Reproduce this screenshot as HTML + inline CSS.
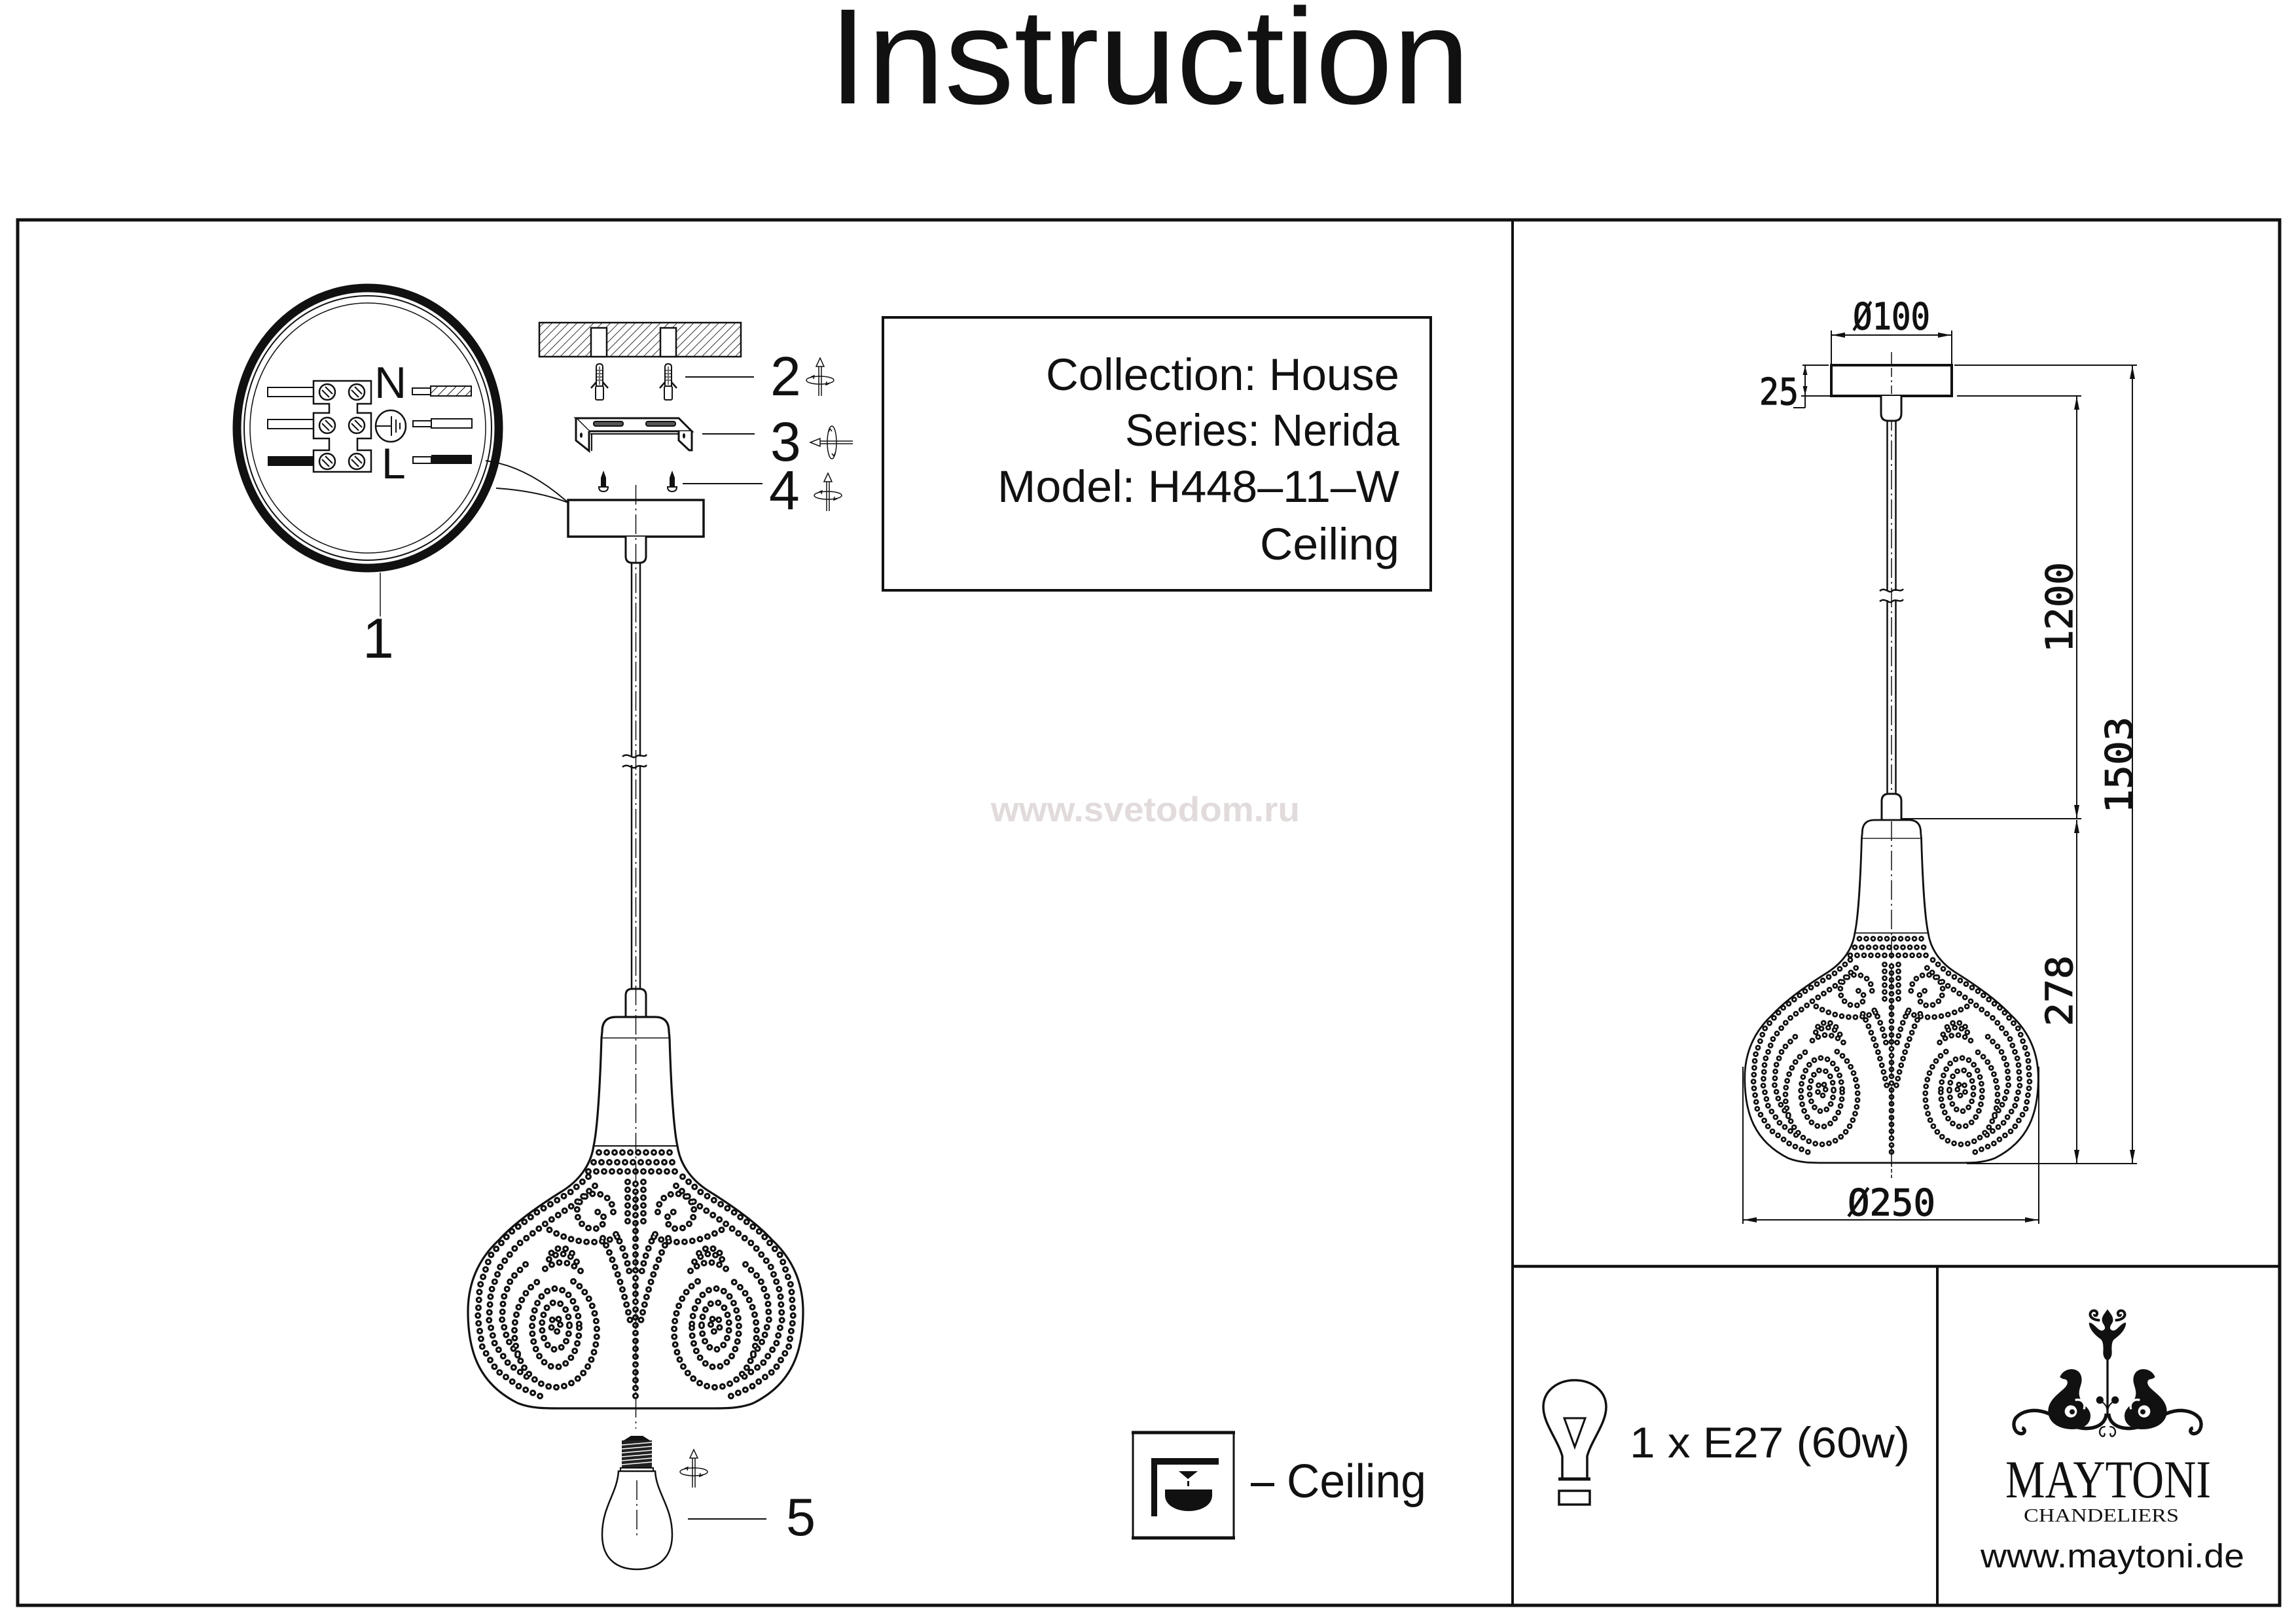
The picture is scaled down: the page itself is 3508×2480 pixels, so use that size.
<!DOCTYPE html>
<html><head><meta charset="utf-8">
<style>
html,body{margin:0;padding:0;background:#fff;overflow:hidden;}
svg{display:block;}
text{font-family:"Liberation Sans",Arial,sans-serif;fill:#111;}
.m{font-family:"DejaVu Sans Mono","Liberation Mono",monospace;stroke:#111;stroke-width:1.2;}
.s{font-family:"Liberation Serif",serif;}
</style></head><body>
<svg width="3508" height="2480" viewBox="0 0 3508 2480" xmlns="http://www.w3.org/2000/svg">
<defs>
  <pattern id="hatch" width="9" height="9" patternUnits="userSpaceOnUse" patternTransform="rotate(45)">
    <line x1="0" y1="0" x2="0" y2="9" stroke="#111" stroke-width="1.7"/>
  </pattern>
  <pattern id="hatch2" width="10" height="10" patternUnits="userSpaceOnUse" patternTransform="rotate(45)">
    <line x1="0" y1="0" x2="0" y2="10" stroke="#111" stroke-width="2"/>
  </pattern>
  <marker id="a" viewBox="0 0 20 8" markerWidth="20" markerHeight="8" refX="20" refY="4" orient="auto-start-reverse" markerUnits="userSpaceOnUse">
    <path d="M0,0 L20,4 L0,8 Z" fill="#111"/>
  </marker>
  <marker id="a2" viewBox="0 0 14 7" markerWidth="14" markerHeight="7" refX="14" refY="3.5" orient="auto-start-reverse" markerUnits="userSpaceOnUse">
    <path d="M0,0 L14,3.5 L0,7 Z" fill="#111"/>
  </marker>

  <g id="dR">
    <path d="M50,338 Q22,395 7,470"/>
    <path d="M30,332 Q14,360 8,398"/>
    <path d="M34,298 C34,268 72,260 86,284 C98,308 76,330 56,322 C44,316 46,296 62,298"/>
    <path d="M28,336 C60,350 100,346 140,320"/>
    <path d="M72,244 L100,268 L150,298 L192,330 L222,365 L238,412 L241,460 L234,505 L212,540 L176,566 L135,584"/>
    <path d="M62,258 L92,285 L138,316 L180,348 L206,380 L221,420 L224,462 L215,500 L194,530 L160,554"/>
    <path d="M168,378 L190,400 L202,430 L204,462 L196,492 L178,520"/>
    <path d="M95,404 A63 85 0 1 0 149,404"/>
    <path d="M86,475 A36 60 0 1 0 158,475 A36 60 0 1 0 86,475"/>
    <path d="M101,472 A21 36 0 1 0 143,472 A21 36 0 1 0 101,472"/>
    <path d="M115,470 A7 11 0 1 0 129,470 A7 11 0 1 0 115,470"/>
    <path d="M84,388 Q113,362 142,388"/>
    <path d="M90,374 Q113,350 136,374"/>
    <path d="M97,361 Q113,345 129,361"/>
  </g>
  <g id="dots">
    <path d="M-56,207 H56"/>
    <path d="M-64,222 H64"/>
    <path d="M-72,236 H72"/>
    <path d="M0,255 V585"/>
    <path d="M-12,252 V318"/>
    <path d="M12,252 V318"/>
    <use href="#dR"/>
    <use href="#dR" transform="scale(-1,1)"/>
  </g>
  <g id="lamp">
    <path d="M-51,22 Q-51,0 -30,0 L30,0 Q51,0 51,22 L52,32 C54,100 58,170 64,197 C68,225 85,250 115,268 C150,290 185,315 208,340 C235,365 256,400 256,450 C256,510 240,560 180,590 C160,598 140,598 115,598 L-115,598 C-140,598 -160,598 -180,590 C-240,560 -256,510 -256,450 C-256,400 -235,365 -208,340 C-185,315 -150,290 -115,268 C-85,250 -68,225 -64,197 C-58,170 -54,100 -52,32 Z" fill="#fff" stroke="#111" stroke-width="3.2"/>
    <line x1="-52" y1="32" x2="52" y2="32" stroke="#111" stroke-width="1.5"/>
    <line x1="-64" y1="197" x2="64" y2="197" stroke="#111" stroke-width="2"/>
    <use href="#dots" fill="none" stroke="#111" stroke-width="10" stroke-dasharray="0 12" stroke-linecap="round"/>
    <use href="#dots" fill="none" stroke="#fff" stroke-width="3.4" stroke-dasharray="0 12" stroke-linecap="round"/>
  </g>

  <g id="rotV" fill="none" stroke="#111" stroke-width="1.5">
    <line x1="-2" y1="0" x2="-2" y2="-46"/>
    <line x1="2" y1="0" x2="2" y2="-46"/>
    <path d="M-6,-45 L0,-58 L6,-45 Z" fill="#fff"/>
    <ellipse cx="0" cy="-24" rx="21" ry="6"/>
    <path d="M-14,-29 l5,-2 l-1,5"/>
    <path d="M14,-19 l-5,2 l1,-5"/>
  </g>
  <g id="rotH" fill="none" stroke="#111" stroke-width="1.5">
    <line x1="0" y1="-2" x2="-52" y2="-2"/>
    <line x1="0" y1="2" x2="-52" y2="2"/>
    <path d="M-50,-6 L-65,0 L-50,6 Z" fill="#fff"/>
    <ellipse cx="-32" cy="0" rx="7" ry="25"/>
    <path d="M-37,-16 l2,-5 l3,4"/>
    <path d="M-27,16 l-2,5 l-3,-4"/>
  </g>

  <g id="scr">
    <circle r="12" fill="#fff" stroke="#111" stroke-width="2.5"/>
    <line x1="-8" y1="-3" x2="3" y2="8" stroke="#111" stroke-width="2"/>
    <line x1="-3" y1="-8" x2="8" y2="3" stroke="#111" stroke-width="2"/>
  </g>

  <g id="plug">
    <path d="M-5,590 V561 Q-5,556 0,556 Q5,556 5,561 V590" fill="#fff" stroke="#111" stroke-width="2"/>
    <line x1="0" y1="560" x2="0" y2="588" stroke="#111" stroke-width="1.2"/>
    <path d="M-4,566 h3 M-4,571 h3 M-4,576 h3 M-4,581 h3 M1,566 h3 M1,571 h3 M1,576 h3 M1,581 h3" stroke="#111" stroke-width="1.2"/>
    <path d="M-5,584 L-13,593 M5,584 L13,593" stroke="#111" stroke-width="2.5" fill="none"/>
    <rect x="-6" y="590" width="12" height="21" rx="2" fill="#fff" stroke="#111" stroke-width="2"/>
  </g>

  <g id="wscr">
    <path d="M0,719 L4,730 L4,743 L-4,743 L-4,730 Z" fill="#111"/>
    <path d="M-7,744 Q-7,751 0,751 Q7,751 7,744 Z" fill="#fff" stroke="#111" stroke-width="2"/>
  </g>
</defs>

<rect width="3508" height="2480" fill="#fff"/>

<text x="1266" y="158" font-size="208" textLength="980" lengthAdjust="spacingAndGlyphs">Instruction</text>

<rect x="27" y="336" width="3456" height="2117" fill="none" stroke="#111" stroke-width="5"/>
<line x1="2311" y1="336" x2="2311" y2="2453" stroke="#111" stroke-width="4"/>
<line x1="2311" y1="1935" x2="3483" y2="1935" stroke="#111" stroke-width="4.5"/>
<line x1="2960" y1="1935" x2="2960" y2="2453" stroke="#111" stroke-width="4"/>

<text x="1514" y="1255" font-size="53" font-weight="bold" textLength="472" lengthAdjust="spacingAndGlyphs" style="fill:#e2dbdb">www.svetodom.ru</text>

<rect x="1349" y="485" width="837" height="417" fill="none" stroke="#111" stroke-width="4"/>
<text x="1598" y="596" font-size="69" textLength="540" lengthAdjust="spacingAndGlyphs">Collection: House</text>
<text x="1719" y="681" font-size="69" textLength="419" lengthAdjust="spacingAndGlyphs">Series: Nerida</text>
<text x="1524" y="767" font-size="69" textLength="614" lengthAdjust="spacingAndGlyphs">Model: H448–11–W</text>
<text x="1925" y="855" font-size="69" textLength="213" lengthAdjust="spacingAndGlyphs">Ceiling</text>

<ellipse cx="562" cy="654" rx="200" ry="214" fill="#fff" stroke="#111" stroke-width="13"/>
<ellipse cx="562" cy="654" rx="189" ry="202" fill="none" stroke="#111" stroke-width="2"/>
<ellipse cx="562" cy="654" rx="180" ry="191" fill="none" stroke="#111" stroke-width="1.5"/>
<rect x="409" y="592" width="70" height="14" fill="#fff" stroke="#111" stroke-width="2"/>
<rect x="409" y="641" width="70" height="14" fill="#fff" stroke="#111" stroke-width="2"/>
<rect x="409" y="697" width="70" height="15" fill="#111"/>
<path d="M479,582 H567 V617 H546 V631 H567 V670 H546 V688 H567 V721 H479 V688 H503 V670 H479 V631 H503 V617 H479 Z" fill="#fff" stroke="#111" stroke-width="2.5"/>
<use href="#scr" transform="translate(500,599)"/>
<use href="#scr" transform="translate(545,599)"/>
<use href="#scr" transform="translate(500,650)"/>
<use href="#scr" transform="translate(545,650)"/>
<use href="#scr" transform="translate(500,705)"/>
<use href="#scr" transform="translate(545,705)"/>
<text x="572" y="608" font-size="68">N</text>
<text x="583" y="731" font-size="66">L</text>
<ellipse cx="597" cy="651" rx="23" ry="24" fill="#fff" stroke="#111" stroke-width="2.5"/>
<path d="M575,651 H598 M598,636 V666 M605,641 V661 M611,646 V656" stroke="#111" stroke-width="2" fill="none"/>
<rect x="630" y="593" width="28" height="10" fill="#fff" stroke="#111" stroke-width="2"/>
<rect x="658" y="590" width="62" height="15" fill="url(#hatch2)" stroke="#111" stroke-width="2"/>
<rect x="631" y="643" width="28" height="9" fill="#fff" stroke="#111" stroke-width="2"/>
<rect x="659" y="640" width="62" height="14" fill="#fff" stroke="#111" stroke-width="2"/>
<rect x="631" y="698" width="28" height="10" fill="#fff" stroke="#111" stroke-width="2"/>
<rect x="659" y="695" width="62" height="14" fill="#111"/>
<path d="M742,704 Q805,712 868,768" fill="none" stroke="#111" stroke-width="2"/>
<path d="M758,746 Q820,750 868,768" fill="none" stroke="#111" stroke-width="2"/>
<line x1="581" y1="875" x2="581" y2="942" stroke="#111" stroke-width="1.5"/>
<text x="554" y="1005" font-size="86">1</text>

<rect x="824" y="493" width="308" height="52" fill="url(#hatch)" stroke="#111" stroke-width="2.5"/>
<rect x="903" y="501" width="24" height="44" fill="#fff" stroke="#111" stroke-width="2.5"/>
<rect x="1009" y="501" width="24" height="44" fill="#fff" stroke="#111" stroke-width="2.5"/>
<use href="#plug" transform="translate(916,0)"/>
<use href="#plug" transform="translate(1021,0)"/>
<line x1="1047" y1="576" x2="1152" y2="576" stroke="#111" stroke-width="2"/>
<text x="1177" y="604" font-size="84">2</text>
<use href="#rotV" transform="translate(1253,605)"/>

<path d="M880,639 L1037,639 L1057,659 L900,659 Z" fill="#fff" stroke="#111" stroke-width="3"/>
<path d="M902,663 H1054" stroke="#111" stroke-width="2"/>
<path d="M880,639 V673 L900,689 V659" fill="#fff" stroke="#111" stroke-width="3"/>
<path d="M904,663 V689" stroke="#111" stroke-width="2"/>
<ellipse cx="888" cy="665" rx="2" ry="4" fill="#111"/>
<path d="M1037,659 V673 L1053,688 H1057 V659" fill="#fff" stroke="#111" stroke-width="3"/>
<ellipse cx="1045" cy="666" rx="2" ry="4" fill="#111"/>
<rect x="907" y="644" width="45" height="7" rx="3" fill="#555" stroke="#111" stroke-width="2"/>
<rect x="987" y="644" width="45" height="7" rx="3" fill="#555" stroke="#111" stroke-width="2"/>
<line x1="1073" y1="663" x2="1153" y2="663" stroke="#111" stroke-width="2"/>
<text x="1177" y="704" font-size="84">3</text>
<use href="#rotH" transform="translate(1303,676)"/>

<use href="#wscr" transform="translate(922,0)"/>
<use href="#wscr" transform="translate(1027,0)"/>
<line x1="1043" y1="739" x2="1165" y2="739" stroke="#111" stroke-width="2"/>
<text x="1175" y="778" font-size="84">4</text>
<use href="#rotV" transform="translate(1265,781)"/>

<rect x="868" y="764" width="207" height="56" fill="#fff" stroke="#111" stroke-width="3.5"/>
<path d="M956,820 V850 Q956,860 966,860 H977 Q987,860 987,850 V820" fill="#fff" stroke="#111" stroke-width="3"/>
<line x1="965" y1="860" x2="965" y2="1156" stroke="#111" stroke-width="2.5"/>
<line x1="978" y1="860" x2="978" y2="1156" stroke="#111" stroke-width="2.5"/>
<line x1="965" y1="1169" x2="965" y2="1511" stroke="#111" stroke-width="2.5"/>
<line x1="978" y1="1169" x2="978" y2="1511" stroke="#111" stroke-width="2.5"/>
<path d="M951,1156 C960,1149 966,1161 972,1156 C978,1151 984,1159 988,1153" fill="none" stroke="#111" stroke-width="2.5"/>
<path d="M951,1172 C960,1165 966,1177 972,1172 C978,1167 984,1175 988,1169" fill="none" stroke="#111" stroke-width="2.5"/>
<path d="M956,1553 V1521 Q956,1511 966,1511 H977 Q987,1511 987,1521 V1553" fill="#fff" stroke="#111" stroke-width="3"/>
<use href="#lamp" transform="translate(971,1554)"/>
<line x1="971.5" y1="741" x2="971.5" y2="2183" stroke="#111" stroke-width="1.5" stroke-dasharray="30 6 3 6"/>

<path d="M964,2194 H982 L993,2201 H953 Z" fill="#111"/>
<rect x="950" y="2201" width="46" height="42" fill="#222"/>
<path d="M950,2208 L996,2204 M950,2214 L996,2210 M950,2220 L996,2216 M950,2226 L996,2222 M950,2232 L996,2228 M950,2238 L996,2234" stroke="#fff" stroke-width="1.5"/>
<rect x="948" y="2243" width="50" height="5" fill="#fff" stroke="#111" stroke-width="2"/>
<path d="M945,2248 C943,2282 920,2302 920,2345 C920,2385 946,2398 973,2398 C1000,2398 1027,2385 1027,2345 C1027,2302 1003,2282 1001,2248 Z" fill="#fff" stroke="#111" stroke-width="2.5"/>
<line x1="973" y1="2262" x2="973" y2="2352" stroke="#111" stroke-width="1.5" stroke-dasharray="30 6 3 6"/>
<use href="#rotV" transform="translate(1060,2273)"/>
<line x1="1051" y1="2321" x2="1171" y2="2321" stroke="#111" stroke-width="2"/>
<text x="1201" y="2346" font-size="81">5</text>

<rect x="1731" y="2188" width="154" height="163" fill="none" stroke="#111" stroke-width="3"/>
<line x1="1729" y1="2189" x2="1887" y2="2189" stroke="#111" stroke-width="5"/>
<line x1="1729" y1="2350" x2="1887" y2="2350" stroke="#111" stroke-width="5"/>
<rect x="1759" y="2228" width="9" height="89" fill="#111"/>
<rect x="1759" y="2228" width="103" height="10" fill="#111"/>
<path d="M1801,2248 H1830 L1815,2260 Z" fill="#111"/>
<rect x="1814" y="2263" width="3" height="8" fill="#111"/>
<path d="M1780,2276 H1852 V2285 C1852,2300 1835,2309 1816,2309 C1797,2309 1780,2300 1780,2285 Z" fill="#111"/>
<rect x="1911" y="2266" width="36" height="5" fill="#111"/>
<text x="1966" y="2288" font-size="72" textLength="213" lengthAdjust="spacingAndGlyphs">Ceiling</text>

<line x1="2890" y1="538" x2="2890" y2="1800" stroke="#111" stroke-width="1.5" stroke-dasharray="30 6 3 6"/>
<rect x="2798" y="558" width="184" height="47" fill="#fff" stroke="#111" stroke-width="4"/>
<line x1="2890" y1="562" x2="2890" y2="602" stroke="#111" stroke-width="1.5" stroke-dasharray="14 5 3 5"/>
<path d="M2874,605 V632 Q2874,643 2885,643 H2894 Q2905,643 2905,632 V605" fill="#fff" stroke="#111" stroke-width="3"/>
<line x1="2883.5" y1="643" x2="2883.5" y2="903" stroke="#111" stroke-width="2.5"/>
<line x1="2896.5" y1="643" x2="2896.5" y2="903" stroke="#111" stroke-width="2.5"/>
<line x1="2883.5" y1="917" x2="2883.5" y2="1213" stroke="#111" stroke-width="2.5"/>
<line x1="2896.5" y1="917" x2="2896.5" y2="1213" stroke="#111" stroke-width="2.5"/>
<path d="M2872,903 C2880,896 2886,908 2891,903 C2897,898 2903,906 2908,900" fill="none" stroke="#111" stroke-width="2.5"/>
<path d="M2872,919 C2880,912 2886,924 2891,919 C2897,914 2903,922 2908,916" fill="none" stroke="#111" stroke-width="2.5"/>
<path d="M2875,1253 V1224 Q2875,1213 2886,1213 H2894 Q2905,1213 2905,1224 V1253" fill="#fff" stroke="#111" stroke-width="3"/>
<use href="#lamp" transform="translate(2890,1253) scale(0.876)"/>
<line x1="2890" y1="1255" x2="2890" y2="1800" stroke="#111" stroke-width="1.5" stroke-dasharray="30 6 3 6"/>

<g stroke="#111" stroke-width="2" fill="none">
  <line x1="2798" y1="505" x2="2798" y2="556"/>
  <line x1="2982" y1="505" x2="2982" y2="556"/>
  <line x1="2799" y1="512" x2="2981" y2="512" marker-start="url(#a)" marker-end="url(#a)"/>
  <line x1="2754" y1="558" x2="2794" y2="558"/>
  <line x1="2752" y1="605" x2="2796" y2="605"/>
  <line x1="2758" y1="559" x2="2758" y2="604" marker-start="url(#a2)" marker-end="url(#a2)"/>
  <line x1="2758" y1="604" x2="2758" y2="623"/>
  <line x1="2740" y1="623" x2="2758" y2="623"/>
  <line x1="2986" y1="558" x2="3265" y2="558"/>
  <line x1="2990" y1="605" x2="3180" y2="605"/>
  <line x1="3258" y1="559" x2="3258" y2="1777" marker-start="url(#a)" marker-end="url(#a)"/>
  <line x1="3173" y1="606" x2="3173" y2="1250" marker-start="url(#a)" marker-end="url(#a)"/>
  <line x1="2905" y1="1251" x2="3180" y2="1251"/>
  <line x1="3173" y1="1253" x2="3173" y2="1777" marker-start="url(#a)" marker-end="url(#a)"/>
  <line x1="3005" y1="1778" x2="3265" y2="1778"/>
  <line x1="2663" y1="1630" x2="2663" y2="1870"/>
  <line x1="3115" y1="1630" x2="3115" y2="1870"/>
  <line x1="2664" y1="1864" x2="3114" y2="1864" marker-start="url(#a)" marker-end="url(#a)"/>
</g>
<text class="m" x="2831" y="503" font-size="56" textLength="118" lengthAdjust="spacingAndGlyphs">Ø100</text>
<text class="m" x="2688" y="618" font-size="56" textLength="60" lengthAdjust="spacingAndGlyphs">25</text>
<text class="m" x="2823" y="1857" font-size="56" textLength="134" lengthAdjust="spacingAndGlyphs">Ø250</text>
<text class="m" transform="translate(3166,997) rotate(-90)" font-size="56" textLength="138" lengthAdjust="spacingAndGlyphs">1200</text>
<text class="m" transform="translate(3257,1243) rotate(-90)" font-size="56" textLength="148" lengthAdjust="spacingAndGlyphs">1503</text>
<text class="m" transform="translate(3166,1568) rotate(-90)" font-size="56" textLength="108" lengthAdjust="spacingAndGlyphs">278</text>

<path d="M2387,2259 L2387,2225 C2380,2200 2358,2175 2358,2150 C2358,2125 2380,2109 2406,2109 C2432,2109 2454,2125 2454,2150 C2454,2175 2432,2200 2425,2225 L2425,2259" fill="none" stroke="#111" stroke-width="3.5"/>
<line x1="2381" y1="2260" x2="2430" y2="2260" stroke="#111" stroke-width="5"/>
<path d="M2390,2167 H2422 L2406,2211 Z" fill="none" stroke="#111" stroke-width="3"/>
<rect x="2382" y="2278" width="47" height="21" fill="none" stroke="#111" stroke-width="3.5"/>
<text x="2490" y="2227" font-size="66" textLength="428" lengthAdjust="spacingAndGlyphs">1 x E27 (60w)</text>

<g transform="translate(3040,1980) scale(0.33333)" fill="#111">
  <rect x="535" y="280" width="10" height="270"/>
  <path d="M540,62 C528,80 512,95 515,115 C518,130 530,135 528,150 C520,165 505,160 495,150 C480,135 462,118 455,125 C458,160 490,185 510,200 C520,210 522,230 520,260 C520,280 530,295 540,295 C550,295 560,280 560,260 C558,230 560,210 570,200 C590,185 622,160 625,125 C618,118 600,135 585,150 C575,160 560,165 552,150 C550,135 562,130 565,115 C568,95 552,80 540,62 Z"/>
  <g id="leafL">
    <path d="M505,112 C475,112 455,96 462,78 C470,62 495,66 492,84 C490,95 478,92 480,84" fill="none" stroke="#111" stroke-width="12"/>
    <path d="M322,372 C338,330 402,322 418,364 C432,402 402,424 412,462 C422,502 462,512 462,550 C462,592 424,612 380,612 C316,612 268,580 268,530 C268,478 316,450 344,422 C362,404 360,384 342,382 C334,381 327,378 322,372 Z"/>
    <circle cx="372" cy="530" r="28" fill="#fff"/>
    <circle cx="378" cy="532" r="12"/>
    <path d="M392,478 C422,470 442,495 432,520" fill="none" stroke="#fff" stroke-width="10"/>
    <path d="M535,540 C530,585 495,608 440,608 C380,608 330,565 270,540 C210,515 150,525 120,560 C100,590 115,632 145,632 C162,632 166,610 148,606" fill="none" stroke="#111" stroke-width="16"/>
    <circle cx="505" cy="478" r="17"/>
    <path d="M505,478 C520,490 535,500 538,520" fill="none" stroke="#111" stroke-width="6"/>
    <path d="M530,600 C505,600 498,625 510,640 C520,650 532,640 525,630" fill="none" stroke="#111" stroke-width="7"/>
  </g>
  <use href="#leafL" transform="translate(1080,0) scale(-1,1)"/>
</g>
<text class="s" x="3064" y="2288" font-size="82" textLength="314" lengthAdjust="spacingAndGlyphs">MAYTONI</text>
<text class="s" x="3092" y="2325" font-size="29" textLength="237" lengthAdjust="spacingAndGlyphs">CHANDELIERS</text>
<text x="3026" y="2395" font-size="51" textLength="403" lengthAdjust="spacingAndGlyphs">www.maytoni.de</text>
</svg>
</body></html>
